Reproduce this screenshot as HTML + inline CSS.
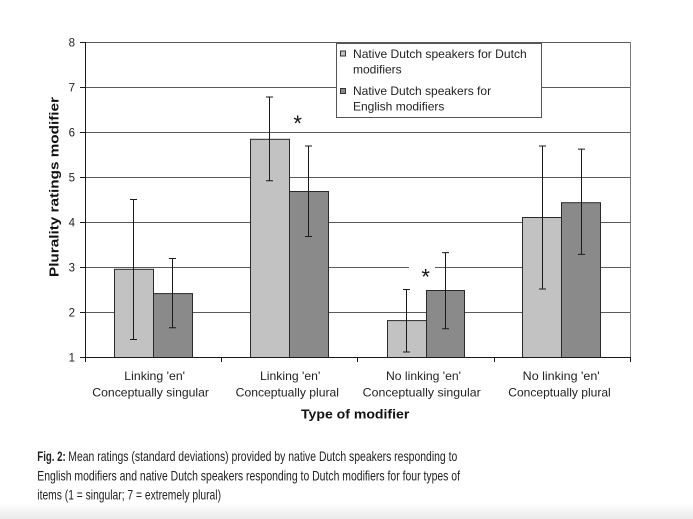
<!DOCTYPE html>
<html>
<head>
<meta charset="utf-8">
<style>
  html, body { margin: 0; padding: 0; background: #ffffff; }
  body { width: 693px; height: 519px; overflow: hidden; }
  svg { display: block; }
  text { font-family: "Liberation Sans", "DejaVu Sans", sans-serif; }
</style>
</head>
<body>
<svg width="693" height="519" viewBox="0 0 693 519" xmlns="http://www.w3.org/2000/svg">
  <defs>
    <linearGradient id="bg" x1="0" y1="0" x2="0" y2="1">
      <stop offset="0" stop-color="#ffffff"/>
      <stop offset="1" stop-color="#eaeaea"/>
    </linearGradient>
  </defs>
  <rect x="0" y="0" width="693" height="519" fill="#ffffff"/>
  <rect x="0" y="503" width="693" height="16" fill="url(#bg)"/>

  <!-- gridlines -->
  <g stroke="#5a5a5a" stroke-width="1">
    <line x1="85" y1="42.5" x2="630" y2="42.5"/>
    <line x1="85" y1="87.5" x2="630" y2="87.5"/>
    <line x1="85" y1="132.5" x2="630" y2="132.5"/>
    <line x1="85" y1="177.5" x2="630" y2="177.5"/>
    <line x1="85" y1="222.5" x2="630" y2="222.5"/>
    <line x1="85" y1="267.5" x2="630" y2="267.5"/>
    <line x1="85" y1="312.5" x2="630" y2="312.5"/>
  </g>
  <!-- right border -->
  <line x1="630.5" y1="42" x2="630.5" y2="362" stroke="#7a7a7a" stroke-width="1"/>

  <!-- white gap behind second asterisk -->
  <rect x="409" y="262" width="26" height="14" fill="#ffffff"/>

  <!-- bars -->
  <g stroke="#2a2a2a" stroke-width="1">
    <rect x="114.5" y="269.3" width="39" height="88.2" fill="#c2c2c2"/>
    <rect x="153.5" y="293.6" width="39" height="63.9" fill="#8a8a8a"/>
    <rect x="250.5" y="139.3" width="39" height="218.2" fill="#c2c2c2"/>
    <rect x="289.5" y="191.5" width="39" height="166" fill="#8a8a8a"/>
    <rect x="387.5" y="320.6" width="39" height="36.9" fill="#c2c2c2"/>
    <rect x="426.5" y="290.5" width="38" height="67" fill="#8a8a8a"/>
    <rect x="522.5" y="217.5" width="39" height="140" fill="#c2c2c2"/>
    <rect x="561.5" y="202.7" width="39" height="154.8" fill="#8a8a8a"/>
  </g>

  <!-- error bars -->
  <g stroke="#1a1a1a" stroke-width="1" fill="none">
    <path d="M133.5 199.5V339.5M130 199.5H137M130 339.5H137"/>
    <path d="M172.5 258.5V327.8M169 258.5H176M169 327.8H176"/>
    <path d="M269.5 97V180.7M266 97H273M266 180.7H273"/>
    <path d="M308.5 146V236.5M305 146H312M305 236.5H312"/>
    <path d="M406.5 289.5V352M403 289.5H410M403 352H410"/>
    <path d="M445.5 252.6V328.7M442 252.6H449M442 328.7H449"/>
    <path d="M542.5 146V289M539 146H546M539 289H546"/>
    <path d="M581.5 149.1V254.4M578 149.1H585M578 254.4H585"/>
  </g>

  <!-- axes -->
  <g stroke="#1a1a1a" stroke-width="1">
    <line x1="85.5" y1="42" x2="85.5" y2="362"/>
    <line x1="80" y1="357.5" x2="631" y2="357.5"/>
    <line x1="80" y1="42.5" x2="85" y2="42.5"/>
    <line x1="80" y1="87.5" x2="85" y2="87.5"/>
    <line x1="80" y1="132.5" x2="85" y2="132.5"/>
    <line x1="80" y1="177.5" x2="85" y2="177.5"/>
    <line x1="80" y1="222.5" x2="85" y2="222.5"/>
    <line x1="80" y1="267.5" x2="85" y2="267.5"/>
    <line x1="80" y1="312.5" x2="85" y2="312.5"/>
    <line x1="221.5" y1="357" x2="221.5" y2="362"/>
    <line x1="357.5" y1="357" x2="357.5" y2="362"/>
    <line x1="494.5" y1="357" x2="494.5" y2="362"/>
    <line x1="630.5" y1="357" x2="630.5" y2="362"/>
  </g>

  <!-- y tick labels -->
  <g font-size="11.5" fill="#222" text-anchor="end">
    <text x="75" y="46.5">8</text>
    <text x="75" y="91.5">7</text>
    <text x="75" y="136.5">6</text>
    <text x="75" y="181.5">5</text>
    <text x="75" y="226.5">4</text>
    <text x="75" y="271.5">3</text>
    <text x="75" y="316.5">2</text>
    <text x="75" y="361.5">1</text>
  </g>

  <!-- y axis title -->
  <text transform="translate(58.3,187) rotate(-90)" text-anchor="middle" font-size="13" font-weight="bold" fill="#111" textLength="180" lengthAdjust="spacingAndGlyphs">Plurality ratings modifier</text>

  <!-- category labels -->
  <g font-size="12" fill="#222">
    <text x="124.3" y="380" textLength="60.7" lengthAdjust="spacingAndGlyphs">Linking 'en'</text>
    <text x="92.3" y="396.7" textLength="116.7" lengthAdjust="spacingAndGlyphs">Conceptually singular</text>
    <text x="260" y="380" textLength="60.3" lengthAdjust="spacingAndGlyphs">Linking 'en'</text>
    <text x="235.7" y="396.7" textLength="103.3" lengthAdjust="spacingAndGlyphs">Conceptually plural</text>
    <text x="386" y="380" textLength="75" lengthAdjust="spacingAndGlyphs">No linking 'en'</text>
    <text x="362.7" y="396.7" textLength="118" lengthAdjust="spacingAndGlyphs">Conceptually singular</text>
    <text x="522.7" y="380" textLength="77" lengthAdjust="spacingAndGlyphs">No linking 'en'</text>
    <text x="508.3" y="396.7" textLength="102.4" lengthAdjust="spacingAndGlyphs">Conceptually plural</text>
  </g>

  <!-- x axis title -->
  <text x="301" y="418.3" font-size="13" font-weight="bold" fill="#111" textLength="108.3" lengthAdjust="spacingAndGlyphs">Type of modifier</text>

  <!-- asterisks -->
  <text x="297.7" y="131" text-anchor="middle" font-family="DejaVu Sans, sans-serif" font-size="22" fill="#111">*</text>
  <text x="425.7" y="284.3" text-anchor="middle" font-family="DejaVu Sans, sans-serif" font-size="22" fill="#111">*</text>

  <!-- legend -->
  <rect x="336.5" y="43.5" width="205" height="74" fill="#ffffff" stroke="#555" stroke-width="1"/>
  <rect x="340.5" y="51" width="5" height="5" fill="#c2c2c2" stroke="#333" stroke-width="1"/>
  <rect x="340.5" y="88.5" width="5" height="5" fill="#8a8a8a" stroke="#333" stroke-width="1"/>
  <g font-size="12" fill="#222">
    <text x="353" y="58" textLength="173.7" lengthAdjust="spacingAndGlyphs">Native Dutch speakers for Dutch</text>
    <text x="353" y="73.5">modifiers</text>
    <text x="353" y="95">Native Dutch speakers for</text>
    <text x="353" y="110.5">English modifiers</text>
  </g>

  <!-- caption -->
  <g font-size="14" fill="#222">
    <text x="37.3" y="461" font-weight="bold" textLength="28.4" lengthAdjust="spacingAndGlyphs">Fig. 2:</text>
    <text x="68.3" y="461" textLength="389" lengthAdjust="spacingAndGlyphs">Mean ratings (standard deviations) provided by native Dutch speakers responding to</text>
    <text x="37.3" y="480.5" textLength="422.7" lengthAdjust="spacingAndGlyphs">English modifiers and native Dutch speakers responding to Dutch modifiers for four types of</text>
    <text x="37.3" y="499.5" textLength="183.7" lengthAdjust="spacingAndGlyphs">items (1 = singular; 7 = extremely plural)</text>
  </g>
</svg>
</body>
</html>
